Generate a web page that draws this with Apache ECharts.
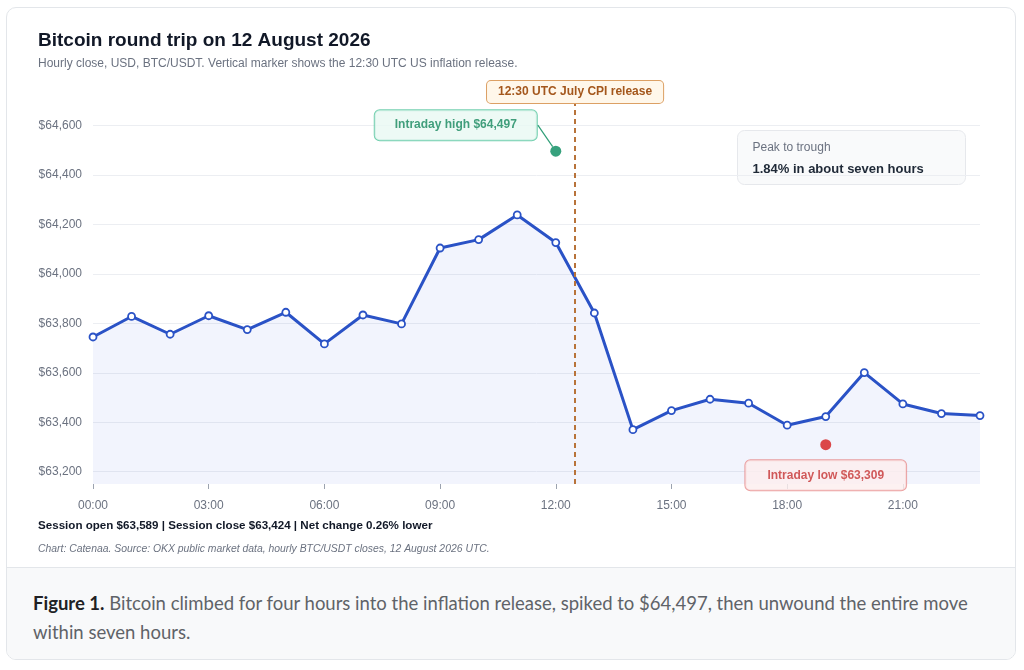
<!DOCTYPE html>
<html>
<head>
<meta charset="utf-8">
<script src="https://cdn.jsdelivr.net/npm/echarts@6/dist/echarts.min.js"></script>
<style>
  html, body { margin: 0; padding: 0; background: #ffffff; }
  #card {
    position: absolute; left: 6px; top: 7px; width: 1010px; height: 653px;
    border: 1px solid #e3e6ea; border-radius: 10px; box-sizing: border-box;
  }
  #chart { position: absolute; left: 0; top: 0; width: 1024px; height: 670px; }
  #caption {
    position: absolute; left: 7px; top: 567px; width: 1008px; height: 92px;
    background: #f8f9fa; border-top: 1px solid #e3e6ea; box-sizing: border-box;
    border-radius: 0 0 9px 9px;
    font-family: Lato, "Noto Sans", sans-serif; font-size: 18.5px; line-height: 29px;
    color: #5f6368; padding: 21px 0 0 26px;
  }
  #caption b { color: #202124; }
</style>
</head>
<body>
<div id="card"></div>
<div id="chart"></div>
<div id="caption"><b>Figure 1.</b> Bitcoin climbed for four hours into the inflation release, spiked to $64,497, then unwound the entire move<br>within seven hours.</div>
<script>
// hourly closes, 12 Aug 2026 (UTC)
var hours = [0, 1, 2, 3, 4, 5, 6, 7, 8, 9, 10, 11, 12, 13, 14, 15, 16, 17, 18, 19, 20, 21, 22, 23];
var closes = [63745, 63828, 63756, 63831, 63775, 63845, 63717, 63834, 63798, 64105, 64139, 64239,
              64127, 63842, 63370, 63447, 63493, 63477, 63388, 63423, 63601, 63474, 63435, 63427];

// intraday extremes
var highPoint = [12, 64497];
var lowPoint = [19, 63309];
var cpiHour = 12.5;

var xTicks = [0, 3, 6, 9, 12, 15, 18, 21];
var yTicks = [63200, 63400, 63600, 63800, 64000, 64200, 64400, 64600];

var FONT = '"Liberation Sans", Arial, sans-serif';

function money(v) {
  return '$' + Math.round(v).toString().replace(/\B(?=(\d{3})+(?!\d))/g, ',');
}
function hh(v) {
  return (v < 10 ? '0' : '') + v + ':00';
}

var lineData = hours.map(function (h, i) { return [h, closes[i]]; });

var chart = echarts.init(document.getElementById('chart'), null, { renderer: 'canvas' });

var option = {
  animation: false,
  textStyle: { fontFamily: FONT },
  title: {
    text: 'Bitcoin round trip on 12 August 2026',
    subtext: 'Hourly close, USD, BTC/USDT. Vertical marker shows the 12:30 UTC US inflation release.',
    left: 38,
    top: 31,
    padding: 0,
    itemGap: 8,
    textStyle: { fontFamily: FONT, fontSize: 19, fontWeight: 'bold', color: '#111827' },
    subtextStyle: { fontFamily: FONT, fontSize: 12, color: '#6b7280' }
  },
  grid: { left: 93, right: 44, top: 101, bottom: 186 },
  xAxis: {
    type: 'value',
    min: 0,
    max: 23,
    axisLine: { show: false },
    axisTick: { show: true, length: 5, lineStyle: { color: '#9ca3af' }, customValues: xTicks },
    axisLabel: { customValues: xTicks, formatter: hh, color: '#6b7280', fontSize: 12, margin: 16, fontFamily: FONT },
    splitLine: { show: false }
  },
  yAxis: {
    type: 'value',
    min: 63150,
    max: 64700,
    axisLine: { show: false },
    axisTick: { show: false, customValues: yTicks },
    axisLabel: { customValues: yTicks, formatter: money, color: '#6b7280', fontSize: 12, margin: 11, fontFamily: FONT },
    splitLine: { show: true, lineStyle: { color: '#eceef2', width: 1 } }
  },
  series: [
    {
      name: 'Close',
      type: 'line',
      data: lineData,
      symbol: 'circle',
      symbolSize: 7,
      z: 3,
      lineStyle: { color: '#2a52c6', width: 3 },
      itemStyle: { color: '#ffffff', borderColor: '#2a52c6', borderWidth: 1.8 },
      areaStyle: { color: 'rgba(70,95,220,0.10)', origin: 'start' },
      markLine: {
        silent: true,
        symbol: 'none',
        lineStyle: { color: '#b8733a', type: [5, 4], width: 2 },
        label: {
          show: true,
          position: 'end',
          distance: -2,
          formatter: '12:30 UTC July CPI release',
          color: '#a4571c',
          fontWeight: 'bold',
          fontSize: 12,
          fontFamily: FONT,
          backgroundColor: '#fff7ea',
          borderColor: '#dca064',
          borderWidth: 1,
          borderRadius: 4,
          padding: [5, 11]
        },
        data: [{ xAxis: cpiHour }]
      }
    },
    {
      name: 'Intraday high',
      type: 'scatter',
      data: [highPoint],
      symbolSize: 11,
      z: 4,
      itemStyle: { color: '#058a5c' },
      label: {
        show: true,
        position: 'inside',
        formatter: 'Intraday high $64,497',
        color: '#15875c',
        fontWeight: 'bold',
        fontSize: 12,
        fontFamily: FONT,
        backgroundColor: '#e9f9f2',
        borderColor: '#52c49c',
        borderWidth: 1,
        borderRadius: 5,
        padding: [9, 20]
      },
      labelLayout: { dx: -100, dy: -26 },
      labelLine: { show: true, lineStyle: { color: '#2f9e77', width: 1.2 } }
    },
    {
      name: 'Intraday low',
      type: 'scatter',
      data: [lowPoint],
      symbolSize: 11,
      z: 4,
      itemStyle: { color: '#d41c1c' },
      label: {
        show: true,
        position: 'bottom',
        distance: 10,
        formatter: 'Intraday low $63,309',
        color: '#c53333',
        fontWeight: 'bold',
        fontSize: 12,
        fontFamily: FONT,
        backgroundColor: '#fdeeee',
        borderColor: '#e68a8a',
        borderWidth: 1,
        borderRadius: 5,
        padding: [9, 22]
      }
    }
  ],
  graphic: [
    {
      type: 'group',
      left: 737,
      top: 130,
      children: [
        {
          type: 'rect',
          shape: { x: 0, y: 0, width: 228, height: 54, r: 7 },
          style: { fill: 'rgba(249,250,251,0.92)', stroke: '#e6e8ec', lineWidth: 1 }
        },
        {
          type: 'text',
          x: 15, y: 11,
          style: { text: 'Peak to trough', fill: '#6b7280', font: '12px ' + FONT }
        },
        {
          type: 'text',
          x: 15, y: 32,
          style: { text: '1.84% in about seven hours', fill: '#1f2937', font: 'bold 13px ' + FONT }
        }
      ]
    },
    {
      type: 'text',
      left: 38,
      top: 520,
      style: {
        text: 'Session open $63,589 | Session close $63,424 | Net change 0.26% lower',
        fill: '#111827',
        font: 'bold 11.6px ' + FONT
      }
    },
    {
      type: 'text',
      left: 38,
      top: 544,
      style: {
        text: 'Chart: Catenaa. Source: OKX public market data, hourly BTC/USDT closes, 12 August 2026 UTC.',
        fill: '#6b7280',
        font: 'italic 10.4px ' + FONT
      }
    }
  ]
};

chart.setOption(option);
</script>
</body>
</html>
